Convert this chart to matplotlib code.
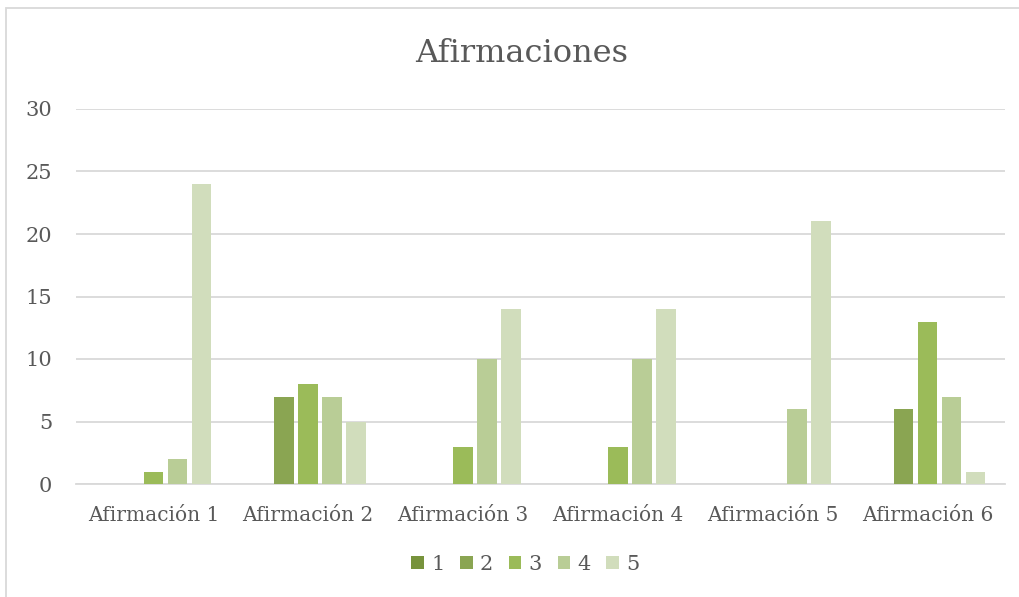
import numpy as np
import matplotlib.pyplot as plt
from matplotlib.patches import Rectangle

categories = ['Afirmación 1', 'Afirmación 2', 'Afirmación 3',
              'Afirmación 4', 'Afirmación 5', 'Afirmación 6']
series_names = ['1', '2', '3', '4', '5']
s1 = [0, 0, 0, 0, 0, 0]
s2 = [0, 7, 0, 0, 0, 6]
s3 = [1, 8, 3, 3, 0, 13]
s4 = [2, 7, 10, 10, 6, 7]
s5 = [24, 5, 14, 14, 21, 1]
yticks = [0, 5, 10, 15, 20, 25, 30]

colors = ['#77933C', '#8AA552', '#9BBB59', '#B9CD96', '#D1DDBC']
txt = '#595959'
plt.rcParams['font.family'] = ['DejaVu Serif']

fig = plt.figure(figsize=(10.2, 5.97), dpi=100)
ax = fig.add_axes([76 / 1020, 1 - 484 / 597, (1005 - 76) / 1020, (484 - 109) / 597])

x = np.arange(len(categories))
pitch = 0.155
width = 0.128
for i, vals in enumerate([s1, s2, s3, s4, s5]):
    ax.bar(x + (i - 2) * pitch, vals, width, color=colors[i],
           label=series_names[i], zorder=3)

ax.set_xlim(-0.5, len(categories) - 0.5)
ax.set_ylim(0, 30)
ax.set_yticks(yticks)
ax.set_xticks(x)
ax.set_xticklabels(categories)
ax.yaxis.grid(True, color='#D9D9D9', linewidth=1.3, zorder=0)
ax.tick_params(axis='x', length=0, labelsize=14.5, colors=txt, pad=16)
ax.tick_params(axis='y', length=0, labelsize=15, colors=txt, pad=17)
for s in ['top', 'right', 'left']:
    ax.spines[s].set_visible(False)
ax.spines['bottom'].set_color('#D9D9D9')
ax.spines['bottom'].set_linewidth(1.3)

fig.text(0.511, 1 - 53 / 597, 'Afirmaciones', ha='center', va='center',
         fontsize=23, color=txt)

leg = fig.legend(loc='center', bbox_to_anchor=(0.515, 1 - 564 / 597), ncol=5,
                 frameon=False, fontsize=15, handlelength=0.6, handleheight=0.6,
                 handletextpad=0.35, columnspacing=0.75, labelcolor=txt)

fig.patches.append(Rectangle((6 / 1020, -0.05), 1.1, 1 - 8 / 597 + 0.05,
                             transform=fig.transFigure, fill=False,
                             edgecolor='#D9D9D9', linewidth=1.3))

fig.savefig('out.png', dpi=100, facecolor='white')
